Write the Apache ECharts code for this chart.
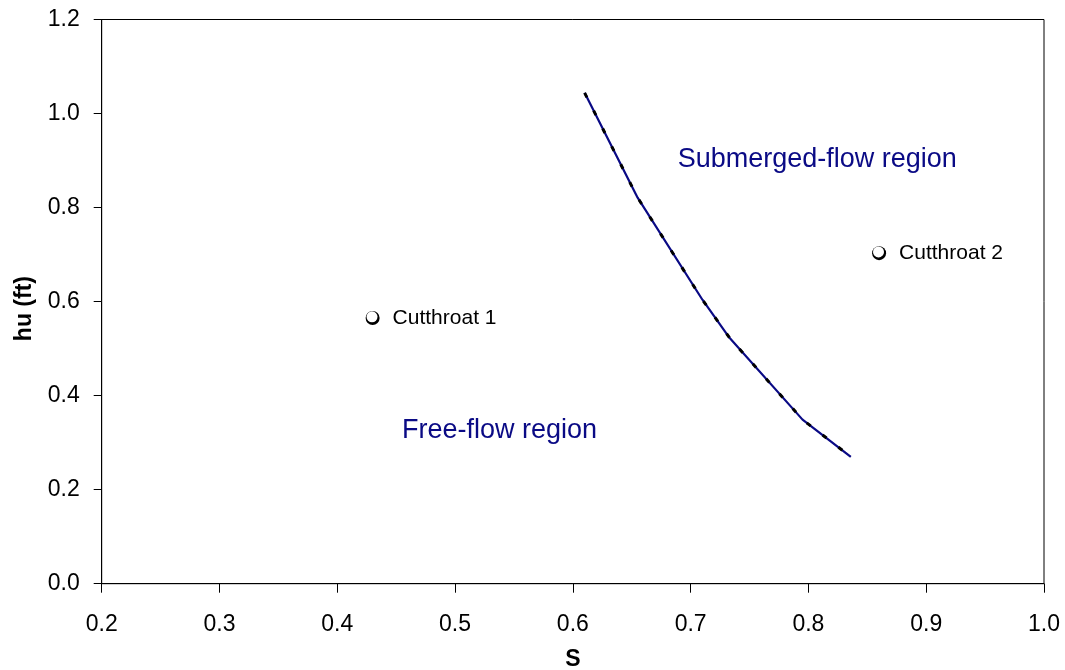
<!DOCTYPE html>
<html>
<head>
<meta charset="utf-8">
<script src="https://cdn.jsdelivr.net/npm/echarts@6/dist/echarts.min.js"></script>
<style>
  html, body { margin: 0; padding: 0; background: #fff; }
  #chart { width: 1065px; height: 670px; }
</style>
</head>
<body>
<div id="chart"></div>
<script>
// Transition curve: submergence ratio S against upstream head hu (ft)
const curveS  = [0.61, 0.655, 0.71, 0.733, 0.795, 0.836];
const curveHu = [1.044, 0.821, 0.604, 0.523, 0.349, 0.270];

// Flume observations
const flumeNames = ['Cutthroat 1', 'Cutthroat 2'];
const flumeS  = [0.43, 0.86];
const flumeHu = [0.565, 0.703];

// Region annotations (anchor = left edge of text)
const regionNames = ['Free-flow region', 'Submerged-flow region'];
const regionS  = [0.455, 0.689];
const regionHu = [0.326, 0.903];

// Axis tick labels
const xTicks = ['0.2', '0.3', '0.4', '0.5', '0.6', '0.7', '0.8', '0.9', '1.0'];
const yTicks = ['0.0', '0.2', '0.4', '0.6', '0.8', '1.0', '1.2'];

const FONT = '"Liberation Sans", Arial, sans-serif';
const curveData = curveS.map((s, i) => [s, curveHu[i]]);
const flumeData = flumeS.map((s, i) => [s, flumeHu[i], flumeNames[i]]);
const regionData = regionS.map((s, i) => [s, regionHu[i], regionNames[i]]);

const chart = echarts.init(document.getElementById('chart'), null, { renderer: 'canvas' });
chart.setOption({
  animation: false,
  backgroundColor: '#ffffff',
  grid: {
    left: 101.7, right: 21, top: 19.5, bottom: 86.3,
    containLabel: false, outerBoundsMode: 'none',
    show: true, borderColor: '#000', borderWidth: 1, backgroundColor: 'transparent'
  },
  xAxis: {
    type: 'value', min: 0.2, max: 1.0, interval: 0.1,
    name: 'S', nameLocation: 'middle', nameGap: 64,
    nameTextStyle: { fontFamily: FONT, fontSize: 23, fontWeight: 'bold', color: '#000' },
    axisLine: { show: true, onZero: false, lineStyle: { color: '#000', width: 1 } },
    axisTick: { show: true, inside: false, length: 9, lineStyle: { color: '#000', width: 1 } },
    axisLabel: {
      margin: 29, fontFamily: FONT, fontSize: 23, color: '#000',
      formatter: v => xTicks[Math.round((v - 0.2) * 10)] ?? ''
    },
    splitLine: { show: false }
  },
  yAxis: {
    type: 'value', min: 0, max: 1.2, interval: 0.2,
    name: 'hu (ft)', nameLocation: 'middle', nameGap: 66,
    nameTextStyle: {
      fontFamily: FONT, fontSize: 23, fontWeight: 'bold', color: '#000',
      padding: [0, 14, 0, 0]
    },
    axisLine: { show: true, onZero: false, lineStyle: { color: '#000', width: 1 } },
    axisTick: { show: true, inside: false, length: 8, lineStyle: { color: '#000', width: 1 } },
    axisLabel: {
      margin: 22, fontFamily: FONT, fontSize: 23, color: '#000',
      formatter: v => yTicks[Math.round(v * 5)] ?? ''
    },
    splitLine: { show: false }
  },
  series: [
    {
      name: 'limit', type: 'line', data: curveData, symbol: 'none', z: 3,
      lineStyle: { color: '#0a0a85', width: 2.2 }
    },
    {
      name: 'limit-dash', type: 'line', data: curveData, symbol: 'none', z: 4,
      lineStyle: { color: '#000', width: 3, type: [5, 15] }
    },
    {
      // dark base disc gives the shaded rim of each marker
      name: 'flume-shadow', type: 'scatter', data: flumeData, z: 5,
      symbol: 'circle', symbolSize: 14,
      itemStyle: { color: '#000', opacity: 1 },
      label: {
        show: true, position: 'right', distance: 13,
        formatter: p => p.data[2],
        fontFamily: FONT, fontSize: 21, color: '#000'
      }
    },
    {
      name: 'flume', type: 'scatter', data: flumeData, z: 6,
      symbol: 'circle', symbolSize: 11, symbolOffset: [-0.6, -1.2],
      itemStyle: { color: '#fff', opacity: 1 }
    },
    {
      name: 'regions', type: 'scatter', data: regionData, z: 7,
      symbolSize: 0, silent: true,
      itemStyle: { opacity: 1 },
      label: {
        show: true, position: 'inside', align: 'left', verticalAlign: 'middle',
        formatter: p => p.data[2],
        fontFamily: FONT, fontSize: 27, color: '#0a0a85'
      }
    }
  ]
});
</script>
</body>
</html>
